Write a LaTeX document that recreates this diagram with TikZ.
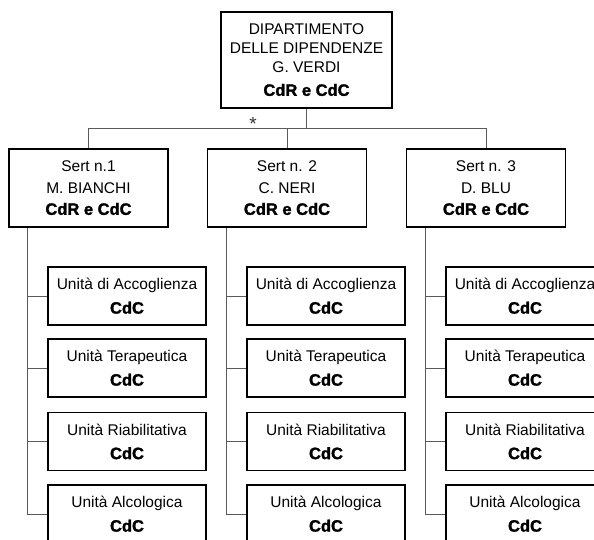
\documentclass[tikz,border=0pt]{standalone}
\usepackage{fontspec}
\setmainfont{Liberation Sans}
\newfontfamily\heavyfont[FakeBold=1.6]{Liberation Sans Bold}
\definecolor{linkgray}{RGB}{90,90,90}
\newcommand{\cdrcdc}{{\heavyfont\fontsize{16.5}{19}\selectfont CdR e CdC}}
\newcommand{\cdconly}{{\heavyfont\fontsize{16.5}{24}\selectfont CdC}}
\begin{document}
\begin{tikzpicture}[x=1pt,y=-1pt,
  box/.style={draw=black, line width=1.8pt, fill=white, rectangle,
    inner sep=0pt, align=center},
  headbox/.style={box, minimum width=171pt, minimum height=96pt,
    font=\fontsize{15.5}{19}\selectfont},
  sertbox/.style={box, minimum width=159pt, minimum height=78pt,
    font=\fontsize{15.5}{21.5}\selectfont},
  unitbox/.style={box, minimum width=158pt, minimum height=58pt,
    font=\fontsize{15.5}{24}\selectfont},
  conn/.style={draw=linkgray, line width=1pt}]
\clip (0,0) rectangle (594,539);
\fill[white] (0,0) rectangle (594,539);

% department head
\node[headbox] (dip) at (306.5,60)
  {DIPARTIMENTO\\DELLE DIPENDENZE\\G. VERDI\\[4pt]\cdrcdc};

% the three Sert services
\node[sertbox] (s1) at (88.5,188) {Sert n.1\\M. BIANCHI\\\cdrcdc};
\node[sertbox] (s2) at (287,188)  {Sert n. 2\\C. NERI\\\cdrcdc};
\node[sertbox] (s3) at (486,188)  {Sert n. 3\\D. BLU\\\cdrcdc};

% bus from the department to the services
\coordinate (bus) at (306.5,128);
\node[font=\fontsize{19}{19}\selectfont, text=linkgray!60!black, inner sep=0pt] (ast) at (253,123.5) {*};
\draw[conn] (dip.south) -- (dip.south |- bus);
\draw[conn] (s1.north |- bus) -- (s3.north |- bus);
\foreach \s in {s1,s2,s3}
  \draw[conn] (\s.north |- bus) -- (\s.north);

% units under each service
\foreach \s/\cx in {s1/127, s2/326, s3/525} {
  \node[unitbox] (\s u1) at (\cx,296)   {Unità di Accoglienza\\\cdconly};
  \node[unitbox] (\s u2) at (\cx,368)   {Unità Terapeutica\\\cdconly};
  \node[unitbox] (\s u3) at (\cx,441.5) {Unità Riabilitativa\\\cdconly};
  \node[unitbox] (\s u4) at (\cx,514)   {Unità Alcologica\\\cdconly};
  \coordinate (\s spine) at ([xshift=19.5pt]\s.south west);
  \draw[conn] (\s spine) |- (\s u4.west);
  \foreach \u in {u1,u2,u3}
    \draw[conn] (\s spine |- \s\u.west) -- (\s\u.west);
}
\end{tikzpicture}
\end{document}
